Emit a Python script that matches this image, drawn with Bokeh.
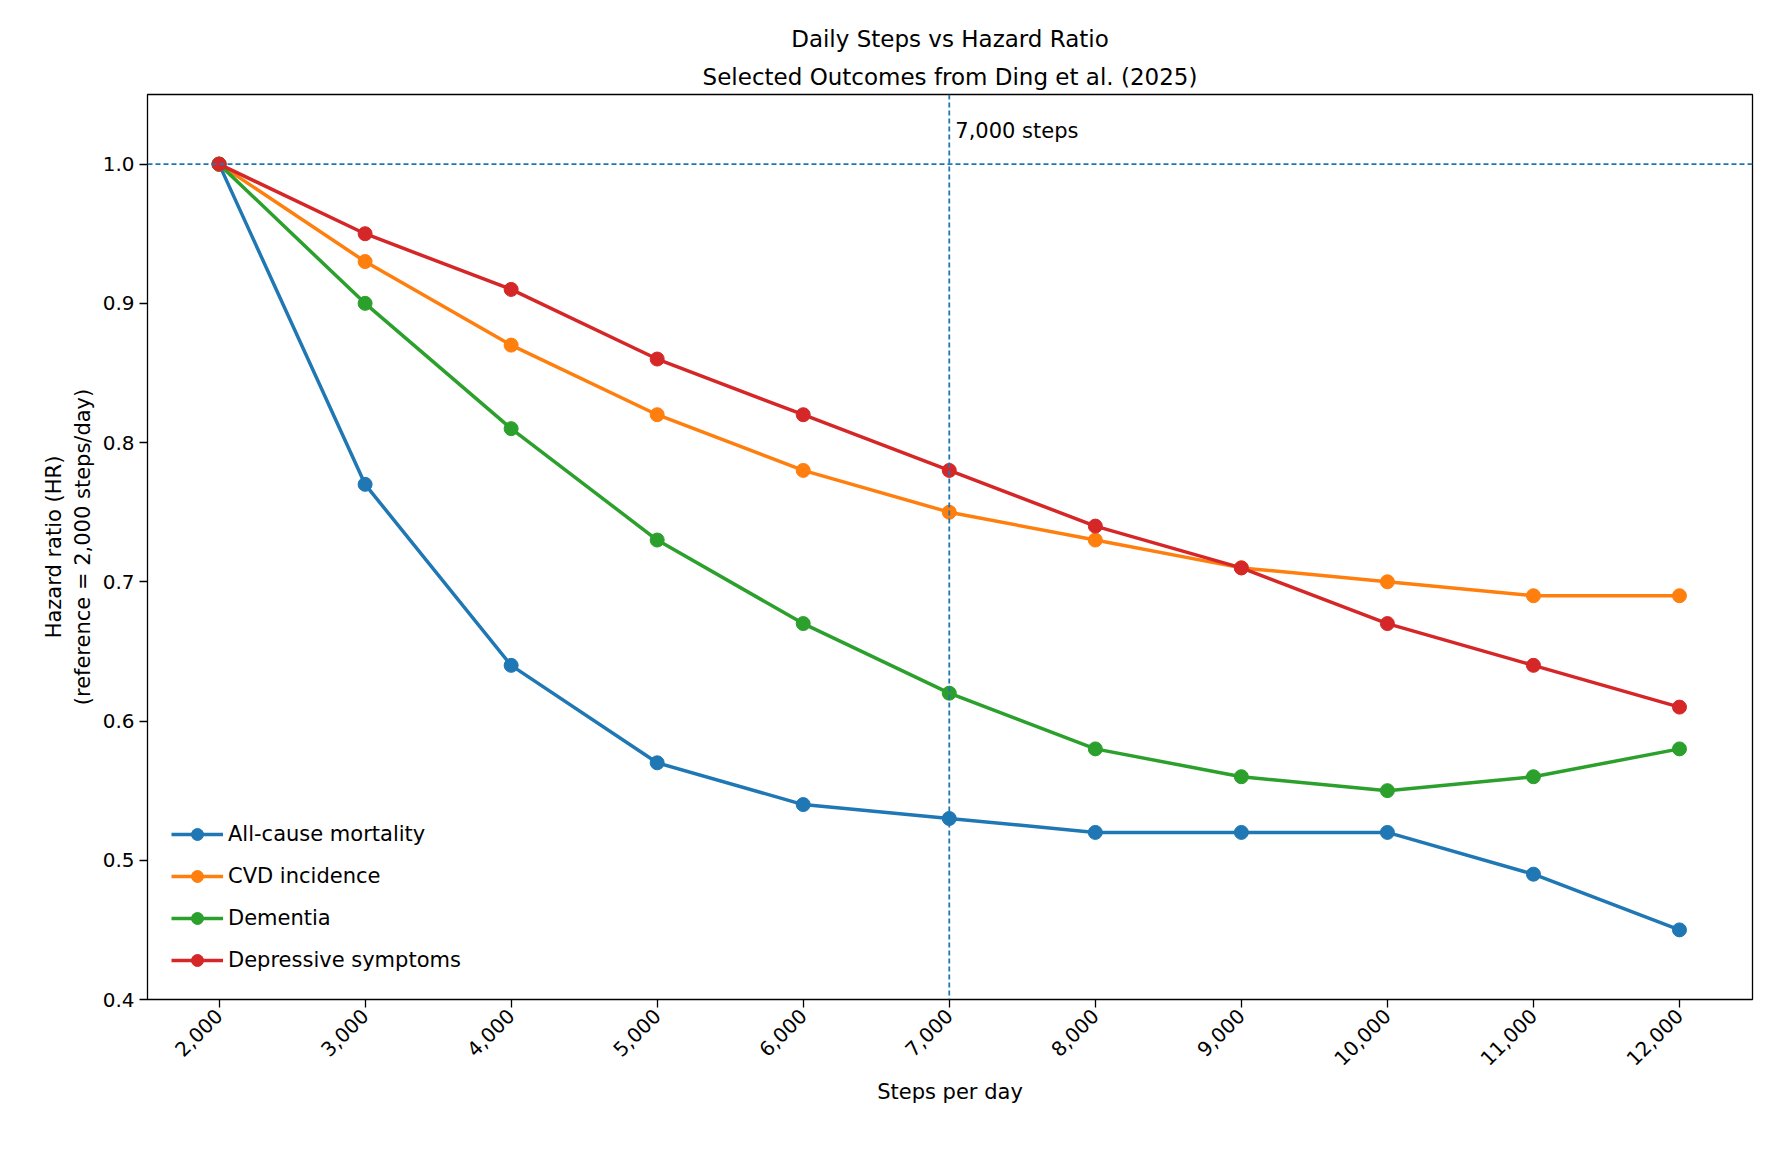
from bokeh.plotting import figure
from bokeh.models import Span, Label, Legend, LegendItem, NumeralTickFormatter, FixedTicker, Title
from bokeh.embed import file_html
from bokeh.resources import INLINE
import math

steps = [2000, 3000, 4000, 5000, 6000, 7000, 8000, 9000, 10000, 11000, 12000]
all_cause = [1.0, 0.77, 0.64, 0.57, 0.54, 0.53, 0.52, 0.52, 0.52, 0.49, 0.45]
cvd = [1.0, 0.93, 0.87, 0.82, 0.78, 0.75, 0.73, 0.71, 0.70, 0.69, 0.69]
dementia = [1.0, 0.90, 0.81, 0.73, 0.67, 0.62, 0.58, 0.56, 0.55, 0.56, 0.58]
depressive = [1.0, 0.95, 0.91, 0.86, 0.82, 0.78, 0.74, 0.71, 0.67, 0.64, 0.61]
series = [("All-cause mortality", all_cause, "#1f77b4"),
          ("CVD incidence", cvd, "#ff7f0e"),
          ("Dementia", dementia, "#2ca02c"),
          ("Depressive symptoms", depressive, "#d62728")]

F = "DejaVu Sans"
p = figure(frame_width=1605, frame_height=905, x_range=(1510, 12500), y_range=(0.4, 1.05),
           output_backend="svg", toolbar_location=None,
           min_border_left=147, min_border_right=12, min_border_top=94, min_border_bottom=20)
p.title = None
for t in ["Selected Outcomes from Ding et al. (2025)", "Daily Steps vs Hazard Ratio"]:
    p.add_layout(Title(text=t, align="center", text_font=F, text_font_size="23px",
                       text_font_style="normal", text_color="black"), "above")
p.grid.visible = False
p.outline_line_color = "black"
p.outline_line_width = 1.3

p.xaxis.ticker = FixedTicker(ticks=steps)
p.xaxis.formatter = NumeralTickFormatter(format="0,0")
p.xaxis.major_label_orientation = math.pi / 4
p.yaxis.ticker = FixedTicker(ticks=[0.4, 0.5, 0.6, 0.7, 0.8, 0.9, 1.0])
p.yaxis.formatter = NumeralTickFormatter(format="0.0")
p.xaxis.axis_label = "Steps per day"
p.yaxis.axis_label = "Hazard ratio (HR)\n(reference = 2,000 steps/day)"
for ax in (p.xaxis, p.yaxis):
    ax.axis_label_text_font = F
    ax.axis_label_text_font_size = "21px"
    ax.axis_label_text_font_style = "normal"
    ax.axis_label_text_color = "black"
    ax.major_label_text_font = F
    ax.major_label_text_font_size = "20px"
    ax.major_label_text_color = "black"
    ax.minor_tick_line_color = None
    ax.major_tick_out = 8
    ax.major_tick_in = 0
    ax.major_tick_line_width = 1.3
    ax.axis_line_color = None

p.add_layout(Span(location=7000, dimension="height", line_color="#1f77b4", line_dash="5 3", line_width=1.8))
p.add_layout(Span(location=1.0, dimension="width", line_color="#1f77b4", line_dash="5 3", line_width=1.8))
p.add_layout(Label(x=7000, y=1.015, x_offset=6, text="7,000 steps", text_font=F,
                   text_font_size="21px", text_baseline="bottom", text_color="black"))

items = []
for name, vals, c in series:
    r1 = p.line(steps, vals, line_color=c, line_width=3.5)
    r2 = p.scatter(steps, vals, size=14, fill_color=c, line_color=c)
    items.append(LegendItem(label=name, renderers=[r1, r2]))
leg = Legend(items=items, location="bottom_left", border_line_color=None,
             background_fill_alpha=0.8, label_text_font=F, label_text_font_size="21px",
             label_text_color="black", glyph_width=52, glyph_height=30, label_height=30,
             spacing=12, margin=24, padding=0)
p.add_layout(leg)

open("out.html", "w").write(file_html(p, INLINE))
